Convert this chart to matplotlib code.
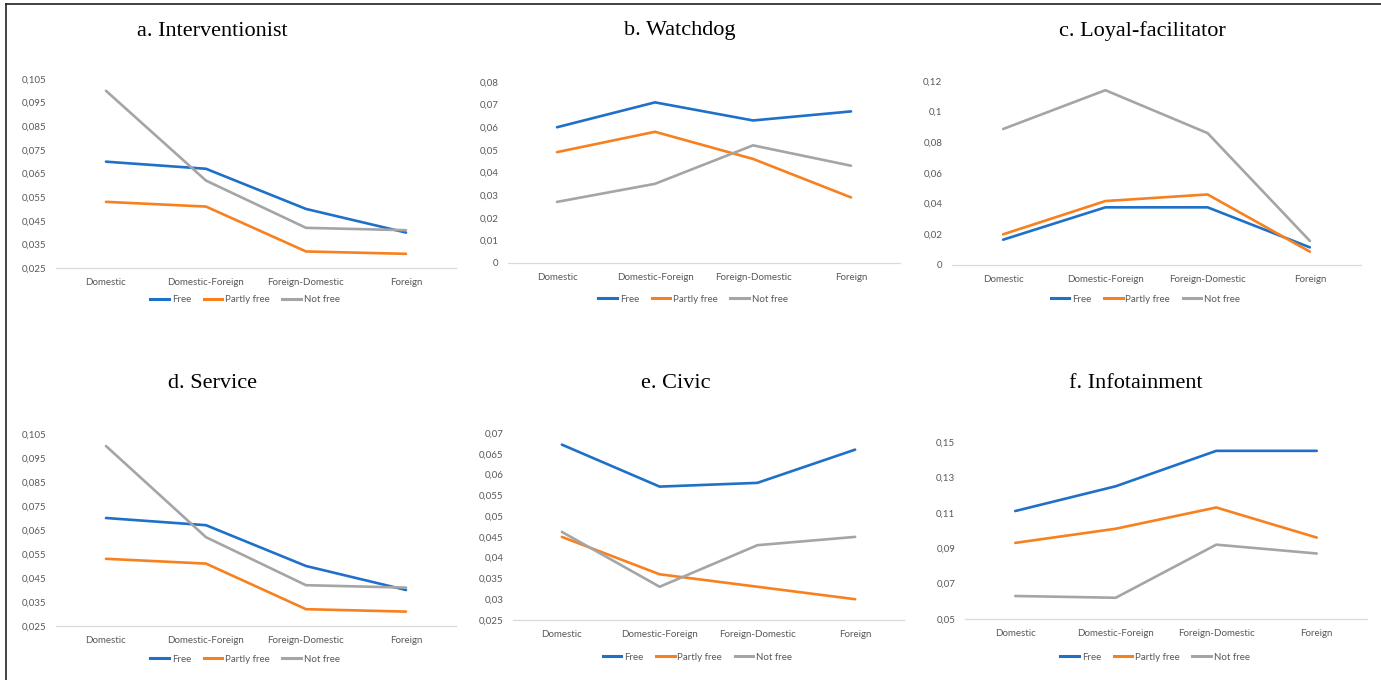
import matplotlib
matplotlib.use("Agg")
import matplotlib.pyplot as plt
from matplotlib.lines import Line2D
from matplotlib.ticker import FuncFormatter

W, H = 1381, 680
DPI = 100

categories = ["Domestic", "Domestic-Foreign", "Foreign-Domestic", "Foreign"]
series_names = ["Free", "Partly free", "Not free"]
series_colors = ["#1f70c8", "#f7801f", "#a5a5a5"]

# a. Interventionist
interventionist_free = [0.070, 0.067, 0.050, 0.040]
interventionist_partly = [0.053, 0.051, 0.032, 0.031]
interventionist_not = [0.100, 0.062, 0.042, 0.041]

# b. Watchdog
watchdog_free = [0.060, 0.071, 0.063, 0.067]
watchdog_partly = [0.049, 0.058, 0.046, 0.029]
watchdog_not = [0.027, 0.035, 0.052, 0.043]

# c. Loyal-facilitator
loyal_free = [0.0165, 0.0376, 0.0376, 0.0115]
loyal_partly = [0.020, 0.0417, 0.046, 0.0087]
loyal_not = [0.0887, 0.114, 0.086, 0.0157]

# d. Service
service_free = [0.070, 0.067, 0.050, 0.040]
service_partly = [0.053, 0.051, 0.032, 0.031]
service_not = [0.100, 0.062, 0.042, 0.041]

# e. Civic
civic_free = [0.0672, 0.0571, 0.058, 0.066]
civic_partly = [0.045, 0.036, 0.033, 0.030]
civic_not = [0.0462, 0.033, 0.043, 0.045]

# f. Infotainment
infotainment_free = [0.111, 0.125, 0.145, 0.145]
infotainment_partly = [0.093, 0.101, 0.113, 0.096]
infotainment_not = [0.063, 0.062, 0.092, 0.087]

titles = ["a. Interventionist", "b. Watchdog", "c. Loyal-facilitator",
          "d. Service", "e. Civic", "f. Infotainment"]

y_ticks = [
    [0.025, 0.035, 0.045, 0.055, 0.065, 0.075, 0.085, 0.095, 0.105],
    [0, 0.01, 0.02, 0.03, 0.04, 0.05, 0.06, 0.07, 0.08],
    [0, 0.02, 0.04, 0.06, 0.08, 0.1, 0.12],
    [0.025, 0.035, 0.045, 0.055, 0.065, 0.075, 0.085, 0.095, 0.105],
    [0.025, 0.03, 0.035, 0.04, 0.045, 0.05, 0.055, 0.06, 0.065, 0.07],
    [0.05, 0.07, 0.09, 0.11, 0.13, 0.15],
]
y_decimals = [3, 2, 2, 3, 3, 2]

panel_data = [
    (interventionist_free, interventionist_partly, interventionist_not),
    (watchdog_free, watchdog_partly, watchdog_not),
    (loyal_free, loyal_partly, loyal_not),
    (service_free, service_partly, service_not),
    (civic_free, civic_partly, civic_not),
    (infotainment_free, infotainment_partly, infotainment_not),
]

# plot-area boxes in pixels: left, right, top (y of max tick), bottom (y of min tick)
boxes = [
    (56, 456, 79, 268),
    (508, 900, 82, 263),
    (952, 1361, 81, 265),
    (56, 456, 434, 626),
    (513, 904, 433, 620),
    (965, 1367, 442, 619),
]
title_pos = [(212, 31), (680, 31), (1142, 31), (212, 384), (676, 384), (1136, 384)]
legend_y = [300, 299, 299, 659, 657, 657]
legend_shift = -11

TICK_COLOR = "#595959"
TICK_FONT = "Lato"

fig = plt.figure(figsize=(W / DPI, H / DPI), dpi=DPI)
fig.patch.set_facecolor("white")


def fmt_factory(dec):
    def fmt(v, pos):
        if abs(v) < 1e-12:
            return "0"
        s = f"{v:.{dec}f}".rstrip("0").rstrip(".")
        return s.replace(".", ",")
    return fmt


for i in range(6):
    l, r, t, b = boxes[i]
    ax = fig.add_axes([l / W, 1 - b / H, (r - l) / W, (b - t) / H])
    x = list(range(len(categories)))
    for vals, name, col in zip(panel_data[i], series_names, series_colors):
        ax.plot(x, vals, color=col, lw=1.9, solid_capstyle="round",
                solid_joinstyle="round", label=name)
    ax.set_xlim(-0.5, len(categories) - 0.5)
    ax.set_ylim(y_ticks[i][0], y_ticks[i][-1])
    ax.set_yticks(y_ticks[i])
    ax.yaxis.set_major_formatter(FuncFormatter(fmt_factory(y_decimals[i])))
    ax.set_xticks(x)
    ax.set_xticklabels(categories)
    for sp in ["top", "right", "left"]:
        ax.spines[sp].set_visible(False)
    ax.spines["bottom"].set_color("#d9d9d9")
    ax.spines["bottom"].set_linewidth(0.9)
    ax.tick_params(axis="both", length=0, labelsize=7, labelcolor=TICK_COLOR)
    ax.tick_params(axis="x", pad=7)
    ax.tick_params(axis="y", pad=7)
    for lab in ax.get_xticklabels() + ax.get_yticklabels():
        lab.set_fontfamily(TICK_FONT)
    ax.patch.set_alpha(0)

    # legend centred below the plot area
    handles = [Line2D([0], [0], color=c, lw=2.2) for c in series_colors]
    cx = ((l + r) / 2 + legend_shift) / W
    fig.legend(handles, series_names, loc="center", bbox_to_anchor=(cx, 1 - legend_y[i] / H),
               ncol=3, frameon=False, handlelength=1.9, handletextpad=0.3,
               columnspacing=1.3, prop={"family": TICK_FONT, "size": 7},
               labelcolor=TICK_COLOR)

    tx, ty = title_pos[i]
    fig.text(tx / W, 1 - ty / H, titles[i], ha="center", va="center",
             fontsize=16, family="Liberation Serif", color="black")

# frame lines along the left and top edges
fig.add_artist(Line2D([6 / W, 6 / W], [0, 1 - 4 / H], color="#222222", lw=1.2,
                      transform=fig.transFigure))
fig.add_artist(Line2D([6 / W, 1], [1 - 4 / H, 1 - 4 / H], color="#222222", lw=1.2,
                      transform=fig.transFigure))

fig.savefig("out.png", dpi=DPI, facecolor="white")
